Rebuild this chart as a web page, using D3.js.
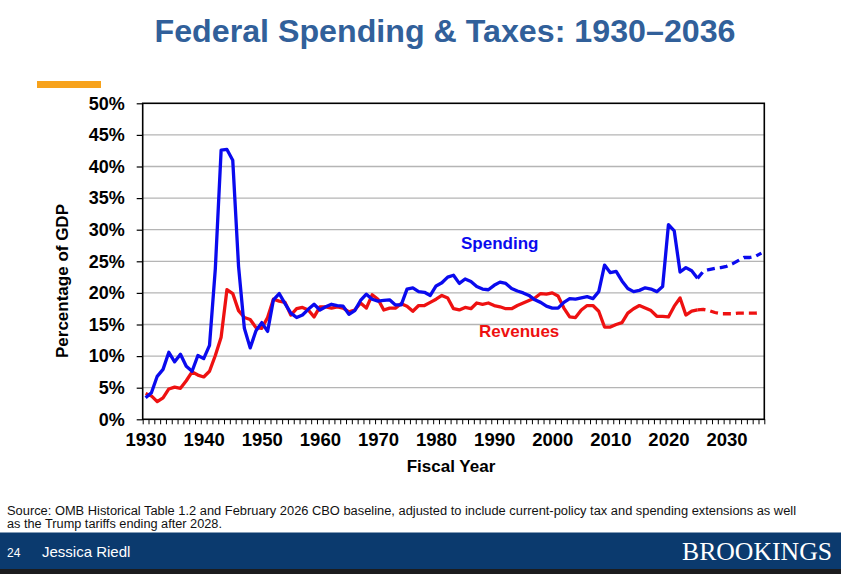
<!DOCTYPE html>
<html>
<head>
<meta charset="utf-8">
<script src="https://cdn.jsdelivr.net/npm/d3@7"></script>
<style>
  html, body { margin: 0; padding: 0; background: #fff; }
  svg { display: block; font-family: "Liberation Sans", Arial, Helvetica, sans-serif; }
</style>
</head>
<body>
<svg id="chart" width="841" height="574"></svg>
<script>
// ---- data ----
const histYears = d3.range(1930, 2026);
const spendingHist = [
  3.4, 4.2, 6.8, 7.9, 10.6, 9.1, 10.3, 8.4, 7.6, 10.1,
  9.6, 11.7, 23.8, 42.6, 42.7, 41.0, 24.2, 14.4, 11.3, 14.0,
  15.3, 13.9, 18.9, 19.9, 18.3, 16.8, 16.1, 16.5, 17.4, 18.2,
  17.3, 17.8, 18.2, 18.0, 17.9, 16.6, 17.2, 18.8, 19.8, 19.0,
  18.7, 18.8, 18.9, 18.1, 18.1, 20.6, 20.8, 20.2, 20.1, 19.6,
  21.1, 21.6, 22.5, 22.8, 21.5, 22.2, 21.8, 21.0, 20.6, 20.5,
  21.2, 21.7, 21.5, 20.7, 20.3, 20.0, 19.6, 18.9, 18.5, 17.9,
  17.6, 17.6, 18.5, 19.1, 19.0, 19.2, 19.4, 19.1, 20.2, 24.4,
  23.2, 23.4, 21.9, 20.7, 20.2, 20.4, 20.8, 20.6, 20.2, 21.0,
  30.8, 29.8, 23.3, 24.0, 23.5, 22.3
];
const revenuesHist = [
  4.1, 3.7, 2.8, 3.4, 4.8, 5.1, 4.9, 6.1, 7.5, 7.0,
  6.7, 7.6, 10.1, 13.0, 20.5, 19.9, 17.2, 16.1, 15.8, 14.5,
  14.4, 16.1, 19.0, 18.7, 18.5, 16.5, 17.5, 17.7, 17.3, 16.2,
  17.8, 17.8, 17.6, 17.8, 17.6, 17.0, 17.3, 18.4, 17.6, 19.7,
  19.0, 17.3, 17.6, 17.6, 18.3, 17.9, 17.1, 18.0, 18.0, 18.5,
  19.0, 19.6, 19.2, 17.5, 17.3, 17.7, 17.5, 18.4, 18.2, 18.4,
  18.0, 17.8, 17.5, 17.5, 18.0, 18.4, 18.8, 19.2, 19.9, 19.8,
  20.0, 19.5, 17.6, 16.2, 16.1, 17.3, 18.0, 18.0, 17.1, 14.6,
  14.6, 15.0, 15.3, 16.8, 17.5, 18.0, 17.6, 17.2, 16.3, 16.3,
  16.2, 17.9, 19.2, 16.5, 17.1, 17.3
];
const projYears = d3.range(2025, 2037);
const spendingProj = [22.3, 23.4, 23.7, 23.9, 24.0, 24.2, 24.6, 25.1, 25.6, 25.6, 25.8, 26.3];
const revenuesProj = [17.3, 17.4, 17.2, 16.9, 16.7, 16.7, 16.7, 16.8, 16.8, 16.8, 16.8, 16.9];
const yTicks = [0, 5, 10, 15, 20, 25, 30, 35, 40, 45, 50];
const xLabelYears = [1930, 1940, 1950, 1960, 1970, 1980, 1990, 2000, 2010, 2020, 2030];

// ---- layout ----
const svg = d3.select("#chart");
const L = 142.7, R = 764.3, T = 103.3, B = 419.3;
const x = d3.scaleLinear().domain([1929.5, 2036.5]).range([L, R]);
const y = d3.scaleLinear().domain([0, 50]).range([B, T]);

const BLUE = "#0a0aee", RED = "#ee1111";
const SANS = "'Liberation Sans', Arial, Helvetica, sans-serif";

// Title
svg.append("text")
  .attr("x", 445).attr("y", 42)
  .attr("text-anchor", "middle")
  .attr("font-size", 32).attr("font-weight", "bold")
  .attr("fill", "#31609a")
  .attr("textLength", 581).attr("lengthAdjust", "spacingAndGlyphs")
  .text("Federal Spending & Taxes: 1930–2036");

// orange accent bar
svg.append("rect").attr("x", 37).attr("y", 81).attr("width", 64).attr("height", 7).attr("fill", "#f7a21b");

// gridlines
svg.append("g").selectAll("line")
  .data(yTicks.filter(d => d > 0 && d < 50))
  .join("line")
  .attr("x1", L).attr("x2", R)
  .attr("y1", d => y(d)).attr("y2", d => y(d))
  .attr("stroke", "#b5b5b5").attr("stroke-width", 1.3);

// y axis
const yAxis = svg.append("g").attr("transform", `translate(${L},0)`)
  .call(d3.axisLeft(y).tickValues(yTicks).tickFormat(d => d + "%").tickSize(6).tickPadding(12));
yAxis.select(".domain").remove();
yAxis.selectAll("line").attr("stroke", "#000").attr("stroke-width", 1.2);
yAxis.selectAll("text").attr("font-size", 18).attr("font-weight", "bold").attr("fill", "#000")
  .style("font-family", SANS);

// x axis minor ticks (year boundaries)
const xTickAxis = svg.append("g").attr("transform", `translate(0,${B})`)
  .call(d3.axisBottom(x).tickValues(d3.range(1929.5, 2037, 1)).tickSize(5).tickFormat(""));
xTickAxis.select(".domain").remove();
xTickAxis.selectAll("line").attr("stroke", "#000").attr("stroke-width", 1);

// x labels
const xLabAxis = svg.append("g").attr("transform", `translate(0,${B})`)
  .call(d3.axisBottom(x).tickValues(xLabelYears).tickSize(0).tickPadding(14).tickFormat(d3.format("d")));
xLabAxis.select(".domain").remove();
xLabAxis.selectAll("text").attr("font-size", 18.5).attr("font-weight", "bold").attr("fill", "#000")
  .style("font-family", SANS);

// frame
svg.append("rect").attr("x", L).attr("y", T).attr("width", R - L).attr("height", B - T)
  .attr("fill", "none").attr("stroke", "#000").attr("stroke-width", 1.6);

// axis titles
svg.append("text").attr("x", 451).attr("y", 472).attr("text-anchor", "middle")
  .attr("font-size", 17).attr("font-weight", "bold").text("Fiscal Year");
svg.append("text").attr("transform", "translate(68,281) rotate(-90)").attr("text-anchor", "middle")
  .attr("font-size", 17).attr("font-weight", "bold").text("Percentage of GDP");

// lines
const line = d3.line().x(d => x(d[0])).y(d => y(d[1])).curve(d3.curveLinear);
const zip = (a, b) => a.map((v, i) => [v, b[i]]);
const g = svg.append("g").attr("fill", "none").attr("stroke-width", 3.3)
  .attr("stroke-linejoin", "round");
g.append("path").attr("d", line(zip(histYears, revenuesHist))).attr("stroke", RED);
g.append("path").attr("d", line(zip(histYears, spendingHist))).attr("stroke", BLUE);
g.append("path").attr("d", line(zip(projYears, revenuesProj))).attr("stroke", RED).attr("stroke-dasharray", "8,5");
g.append("path").attr("d", line(zip(projYears, spendingProj))).attr("stroke", BLUE).attr("stroke-dasharray", "8,5");

// series labels
svg.append("text").attr("x", 461).attr("y", 249).attr("font-size", 17).attr("font-weight", "bold")
  .attr("fill", BLUE).text("Spending");
svg.append("text").attr("x", 479).attr("y", 337).attr("font-size", 17).attr("font-weight", "bold")
  .attr("fill", RED).text("Revenues");

// source note
svg.append("text").attr("x", 7).attr("y", 515).attr("font-size", 12.5).attr("fill", "#111")
  .attr("textLength", 789).attr("lengthAdjust", "spacingAndGlyphs")
  .text("Source: OMB Historical Table 1.2 and February 2026 CBO baseline, adjusted to include current-policy tax and spending extensions as well");
svg.append("text").attr("x", 7).attr("y", 528).attr("font-size", 12.5).attr("fill", "#111")
  .attr("textLength", 215).attr("lengthAdjust", "spacingAndGlyphs")
  .text("as the Trump tariffs ending after 2028.");

// footer
svg.append("rect").attr("x", 0).attr("y", 532.5).attr("width", 841).attr("height", 37).attr("fill", "#0b3a6e");
svg.append("rect").attr("x", 0).attr("y", 569).attr("width", 841).attr("height", 5).attr("fill", "#1c1c1e");
svg.append("text").attr("x", 7).attr("y", 557).attr("font-size", 12).attr("fill", "#fff").text("24");
svg.append("text").attr("x", 42).attr("y", 557).attr("font-size", 15).attr("fill", "#fff").text("Jessica Riedl");
svg.append("text").attr("x", 682).attr("y", 560).attr("font-size", 26).attr("fill", "#fff")
  .style("font-family", "'Liberation Serif', 'Times New Roman', serif")
  .attr("textLength", 150).attr("lengthAdjust", "spacingAndGlyphs")
  .text("BROOKINGS");
</script>
</body>
</html>
